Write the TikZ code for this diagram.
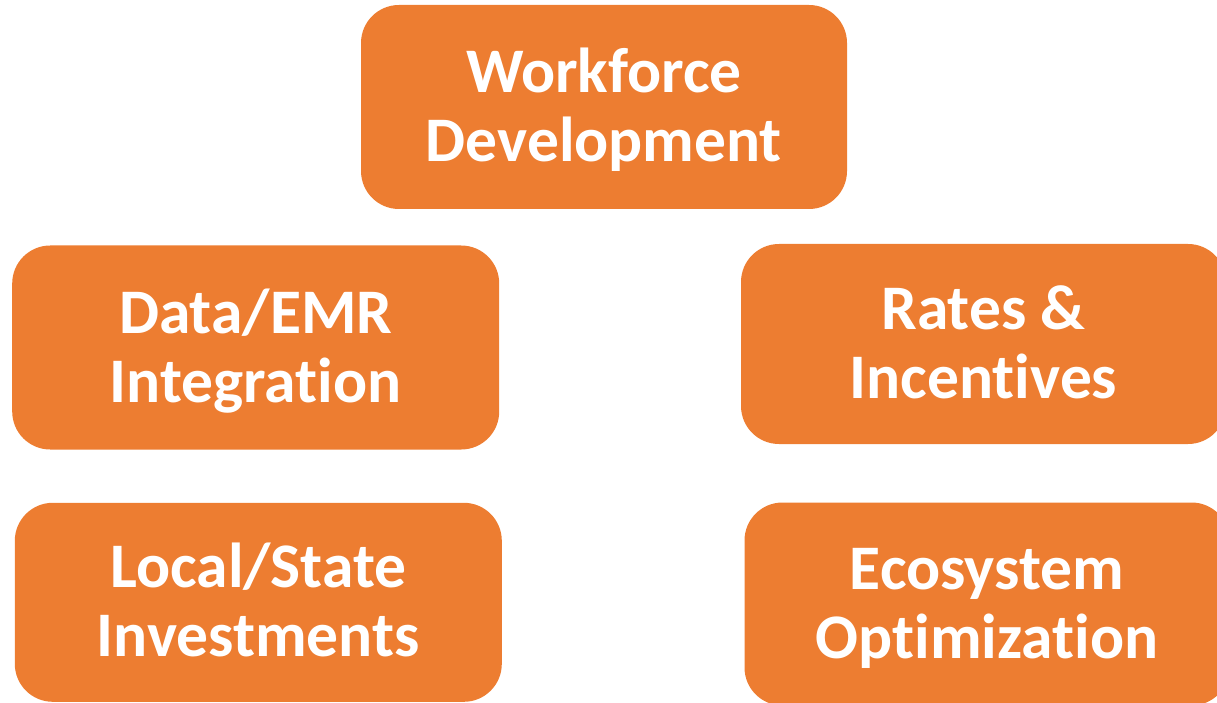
\documentclass[tikz,border=0pt]{standalone}
\usepackage{fontspec}
\setmainfont{Carlito}[Ligatures=NoCommon]
\definecolor{boxorange}{HTML}{ED7D31}
\begin{document}
\begin{tikzpicture}[x=1pt,y=-1pt,
  card/.style={rectangle, rounded corners=38pt, fill=boxorange, draw=none,
    text=white, font=\fontsize{63.5}{69}\selectfont\bfseries, align=center,
    text height=109pt, text depth=0pt, inner sep=0pt}]
\useasboundingbox (0,0) rectangle (1217,703);
\clip (0,0) rectangle (1217,703);
\node[card, minimum width=486pt, minimum height=204pt] (wf) at (604,107) {Workforce\\Development};
\node[card, minimum width=487pt, minimum height=204pt] (data) at (255.7,347.5) {Data/EMR\\Integration};
\node[card, minimum width=487pt, minimum height=199pt] (local) at (258.3,602.3) {Local/State\\Investments};
\node[card, minimum width=485pt, minimum height=200pt] (rates) at (983.5,344) {Rates \&\\Incentives};
\node[card, minimum width=485pt, minimum height=203pt] (eco) at (987,604) {Ecosystem\\Optimization};
\end{tikzpicture}
\end{document}
